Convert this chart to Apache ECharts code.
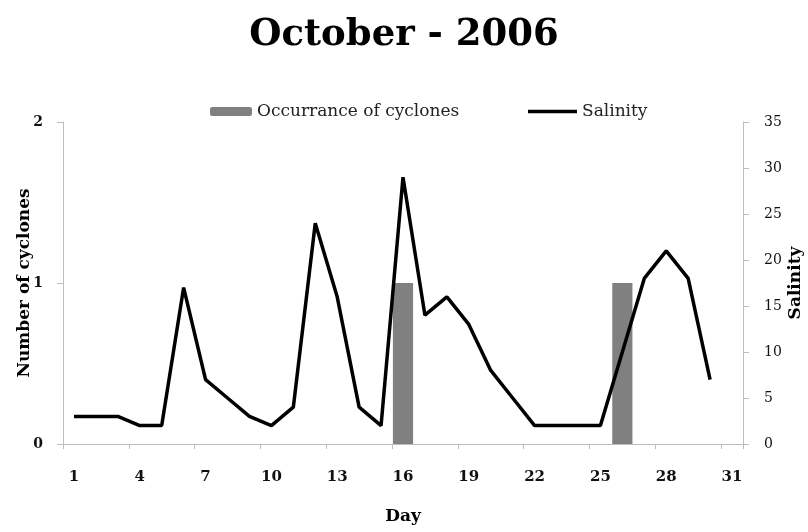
<!DOCTYPE html>
<html>
<head>
<meta charset="utf-8">
<script src="https://cdn.jsdelivr.net/npm/echarts@6/dist/echarts.min.js"></script>
<style>html,body{margin:0;padding:0;background:#fff;}#c{width:808px;height:532px;}</style>
</head>
<body>
<div id="c"></div>
<script>
var days = [];
for (var d = 1; d <= 31; d++) days.push(String(d));
var cyclones = [null,null,null,null,null,null,null,null,null,null,null,null,null,null,null,1,null,null,null,null,null,null,null,null,null,1,null,null,null,null,null];
var salinity = [3,3,3,2,2,17,7,5,3,2,4,24,16,4,2,29,14,16,13,8,5,2,2,2,2,10,18,21,18,7,null];
var leftTicks = [0,1,2];
var rightTicks = [0,5,10,15,20,25,30,35];

var FONT = 'DejaVu Serif';
var chart = echarts.init(document.getElementById('c'), null, {renderer:'canvas'});
chart.setOption({
  animation: false,
  backgroundColor: '#ffffff',
  title: {
    text: 'October - 2006', left: 'center', top: 12,
    textStyle: {fontFamily: FONT, fontWeight: 'bold', fontSize: 37, color: '#000'}
  },
  legend: [{
    data: ['Occurrance of cyclones'], left: 205, top: 98,
    itemWidth: 42, itemHeight: 9, itemGap: 0,
    textStyle: {fontFamily: FONT, fontSize: 17, color: '#222'}
  },{
    data: [{name: 'Salinity', icon: 'rect'}], left: 523, top: 98,
    itemWidth: 49, itemHeight: 3.5, itemGap: 0,
    textStyle: {fontFamily: FONT, fontSize: 17, color: '#222'}
  }],
  grid: {left: 63, right: 65, top: 122, bottom: 88, outerBoundsMode: 'none', containLabel: false},
  xAxis: {
    type: 'category', data: days, boundaryGap: true,
    name: 'Day', nameLocation: 'middle', nameGap: 64, nameMoveOverlap: false,
    nameTextStyle: {fontFamily: FONT, fontWeight: 'bold', fontSize: 17, color: '#000'},
    axisLine: {lineStyle: {color: '#bdbdbd', width: 1}},
    axisTick: {show: true, interval: 2, length: 5, lineStyle: {color: '#bdbdbd'}},
    axisLabel: {interval: 2, margin: 26, fontFamily: FONT, fontWeight: 'bold', fontSize: 15, color: '#111'},
    splitLine: {show: false}
  },
  yAxis: [{
    type: 'value', min: 0, max: 2, interval: 1, position: 'left',
    name: 'Number of cyclones', nameLocation: 'middle', nameGap: 30, nameRotate: 90, nameMoveOverlap: false,
    nameTextStyle: {fontFamily: FONT, fontWeight: 'bold', fontSize: 17, color: '#000'},
    axisLine: {show: true, lineStyle: {color: '#bdbdbd'}},
    axisTick: {show: true, length: 6, lineStyle: {color: '#bdbdbd'}},
    axisLabel: {margin: 20, fontFamily: FONT, fontWeight: 'bold', fontSize: 14, color: '#111',
      formatter: function(v){ return leftTicks.indexOf(v) >= 0 ? String(v) : ''; }},
    splitLine: {show: false}
  },{
    type: 'value', min: 0, max: 35, interval: 5, position: 'right',
    name: 'Salinity', nameLocation: 'middle', nameGap: 44, nameRotate: 90, nameMoveOverlap: false,
    nameTextStyle: {fontFamily: FONT, fontWeight: 'bold', fontSize: 17, color: '#000'},
    axisLine: {show: true, lineStyle: {color: '#bdbdbd'}},
    axisTick: {show: true, length: 6, lineStyle: {color: '#bdbdbd'}},
    axisLabel: {margin: 21, fontFamily: FONT, fontSize: 14, color: '#111',
      formatter: function(v){ return rightTicks.indexOf(v) >= 0 ? String(v) : ''; }},
    splitLine: {show: false}
  }],
  series: [{
    name: 'Occurrance of cyclones', type: 'bar', yAxisIndex: 0,
    data: cyclones, barCategoryGap: '8%',
    itemStyle: {color: '#808080'}
  },{
    name: 'Salinity', type: 'line', yAxisIndex: 1,
    data: salinity, symbol: 'none', connectNulls: false,
    lineStyle: {color: '#000', width: 3.5}, itemStyle: {color: '#000'}
  }]
});
</script>
</body>
</html>
